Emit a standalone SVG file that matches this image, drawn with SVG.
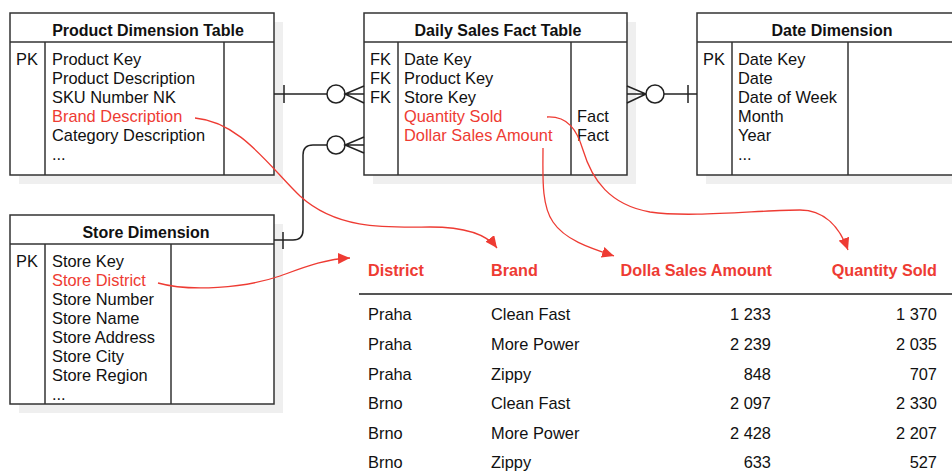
<svg xmlns="http://www.w3.org/2000/svg" width="952" height="471" viewBox="0 0 952 471">
  <style>
    .shadow { fill: #efefef; }
    .box { fill: #ffffff; stroke: #333333; stroke-width: 1.5; }
    .div { stroke: #333333; stroke-width: 1.5; }
    .t { font-family: "Liberation Sans", Arial, sans-serif; font-size: 16.4px; fill: #111111; }
    .h { font-size: 16px; font-weight: bold; text-anchor: middle; }
    .red { fill: #ee3b33; }
    .hd { font-size: 16.2px; font-weight: bold; fill: #ee3b33; }
    .end { text-anchor: end; }
    .er { fill: none; stroke: #222222; stroke-width: 1.5; }
    .circ { fill: #ffffff; stroke: #222222; stroke-width: 1.5; }
    .flow { fill: none; stroke: #ee3b33; stroke-width: 1.3; marker-end: url(#arrow); }
  </style>
  <defs>
    <marker id="arrow" markerUnits="userSpaceOnUse" markerWidth="13" markerHeight="11" refX="12" refY="5.5" orient="auto">
      <path d="M0,0 L12,5.5 L0,11 z" fill="#ee3b33"/>
    </marker>
  </defs>

  <rect width="952" height="471" fill="#ffffff"/>

  <!-- Product dimension -->
  <g id="product-dimension">
    <rect class="shadow" x="19" y="22" width="264" height="162"/>
    <rect class="box" x="10" y="13" width="264" height="162"/>
    <line class="div" x1="10" y1="42" x2="274" y2="42"/>
    <line class="div" x1="45" y1="42" x2="45" y2="175"/>
    <line class="div" x1="224" y1="42" x2="224" y2="175"/>
    <text class="t h" x="148" y="36">Product Dimension Table</text>
    <text class="t" x="16" y="65">PK</text>
    <text class="t" x="52" y="65">Product Key</text>
    <text class="t" x="52" y="84">Product Description</text>
    <text class="t" x="52" y="103">SKU Number NK</text>
    <text class="t red" x="52" y="122">Brand Description</text>
    <text class="t" x="52" y="141">Category Description</text>
    <text class="t" x="52" y="160">...</text>
  </g>

  <!-- Daily sales fact -->
  <g id="daily-sales-fact">
    <rect class="shadow" x="373" y="22" width="263" height="162"/>
    <rect class="box" x="364" y="13" width="263" height="162"/>
    <line class="div" x1="364" y1="42" x2="627" y2="42"/>
    <line class="div" x1="398" y1="42" x2="398" y2="175"/>
    <line class="div" x1="571" y1="42" x2="571" y2="175"/>
    <text class="t h" x="498" y="36">Daily Sales Fact Table</text>
    <text class="t" x="370" y="65">FK</text>
    <text class="t" x="370" y="84">FK</text>
    <text class="t" x="370" y="103">FK</text>
    <text class="t" x="404" y="65">Date Key</text>
    <text class="t" x="404" y="84">Product Key</text>
    <text class="t" x="404" y="103">Store Key</text>
    <text class="t red" x="404" y="122">Quantity Sold</text>
    <text class="t red" x="404" y="141">Dollar Sales Amount</text>
    <text class="t" x="577" y="122">Fact</text>
    <text class="t" x="577" y="141">Fact</text>
  </g>

  <!-- Date dimension -->
  <g id="date-dimension">
    <rect class="shadow" x="706" y="22" width="264" height="162"/>
    <rect class="box" x="697" y="13" width="264" height="162"/>
    <line class="div" x1="697" y1="42" x2="961" y2="42"/>
    <line class="div" x1="732" y1="42" x2="732" y2="175"/>
    <line class="div" x1="848" y1="42" x2="848" y2="175"/>
    <text class="t h" x="832" y="36">Date Dimension</text>
    <text class="t" x="703" y="65">PK</text>
    <text class="t" x="738" y="65">Date Key</text>
    <text class="t" x="738" y="84">Date</text>
    <text class="t" x="738" y="103">Date of Week</text>
    <text class="t" x="738" y="122">Month</text>
    <text class="t" x="738" y="141">Year</text>
    <text class="t" x="738" y="160">...</text>
  </g>

  <!-- Store dimension -->
  <g id="store-dimension">
    <rect class="shadow" x="19" y="224" width="264" height="189"/>
    <rect class="box" x="10" y="215" width="264" height="189"/>
    <line class="div" x1="10" y1="244" x2="274" y2="244"/>
    <line class="div" x1="45" y1="244" x2="45" y2="404"/>
    <line class="div" x1="171" y1="244" x2="171" y2="404"/>
    <text class="t h" x="146" y="238">Store Dimension</text>
    <text class="t" x="16" y="267">PK</text>
    <text class="t" x="52" y="267">Store Key</text>
    <text class="t red" x="52" y="286">Store District</text>
    <text class="t" x="52" y="305">Store Number</text>
    <text class="t" x="52" y="324">Store Name</text>
    <text class="t" x="52" y="343">Store Address</text>
    <text class="t" x="52" y="362">Store City</text>
    <text class="t" x="52" y="381">Store Region</text>
    <text class="t" x="52" y="400">...</text>
  </g>

  <!-- Result table -->
  <g id="result-table">
    <text class="t hd" x="368" y="276">District</text>
    <text class="t hd" x="491" y="276">Brand</text>
    <text class="t hd end" x="772" y="276">Dolla Sales Amount</text>
    <text class="t hd end" x="937" y="276">Quantity Sold</text>
    <line x1="359" y1="294" x2="952" y2="294" stroke="#555555" stroke-width="2"/>

    <text class="t" x="368" y="320">Praha</text>
    <text class="t" x="491" y="320">Clean Fast</text>
    <text class="t end" x="771" y="320">1 233</text>
    <text class="t end" x="937" y="320">1 370</text>

    <text class="t" x="368" y="350">Praha</text>
    <text class="t" x="491" y="350">More Power</text>
    <text class="t end" x="771" y="350">2 239</text>
    <text class="t end" x="937" y="350">2 035</text>

    <text class="t" x="368" y="380">Praha</text>
    <text class="t" x="491" y="380">Zippy</text>
    <text class="t end" x="771" y="380">848</text>
    <text class="t end" x="937" y="380">707</text>

    <text class="t" x="368" y="409">Brno</text>
    <text class="t" x="491" y="409">Clean Fast</text>
    <text class="t end" x="771" y="409">2 097</text>
    <text class="t end" x="937" y="409">2 330</text>

    <text class="t" x="368" y="439">Brno</text>
    <text class="t" x="491" y="439">More Power</text>
    <text class="t end" x="771" y="439">2 428</text>
    <text class="t end" x="937" y="439">2 207</text>

    <text class="t" x="368" y="468">Brno</text>
    <text class="t" x="491" y="468">Zippy</text>
    <text class="t end" x="771" y="468">633</text>
    <text class="t end" x="937" y="468">527</text>
  </g>

  <!-- Relationships and column mappings -->
  <g id="connectors">
    <!-- product (one) to fact (zero or many) -->
    <path class="er" d="M274,94 L327,94"/>
    <path class="er" d="M284,85 L284,103"/>
    <circle class="circ" cx="336" cy="94" r="9"/>
    <path class="er" d="M364,86 L345,94 L364,103 M345,94 L364,94"/>

    <!-- store (one) to fact (zero or many) -->
    <path class="er" d="M274,240 L293,240 Q303,240 303,230 L303,155 Q303,145 313,145 L327,145"/>
    <path class="er" d="M283,232 L283,249"/>
    <circle class="circ" cx="336" cy="145" r="9"/>
    <path class="er" d="M364,137 L345,145 L364,153 M345,145 L364,145"/>

    <!-- fact (zero or many) to date (one) -->
    <path class="er" d="M627,86 L646,94 L627,103 M627,94 L646,94"/>
    <circle class="circ" cx="655" cy="94" r="9"/>
    <path class="er" d="M664,94 L697,94"/>
    <path class="er" d="M688,85 L688,103"/>

    <!-- attribute to result column mappings -->
    <path class="flow" d="M195,118 C240,122 268,165 300,196 C335,228 380,228 430,227 C470,227 488,236 497,248"/>
    <path class="flow" d="M158,283 C190,292 245,288 280,276 C305,267 325,259 350,258"/>
    <path class="flow" d="M543,148 C543,175 541,205 553,222 C565,240 590,248 614,256"/>
    <path class="flow" d="M547,117 C568,116 577,130 583,150 C592,180 610,205 650,212 C690,218 760,210 800,210 C825,210 840,228 848,250"/>
  </g>
</svg>
